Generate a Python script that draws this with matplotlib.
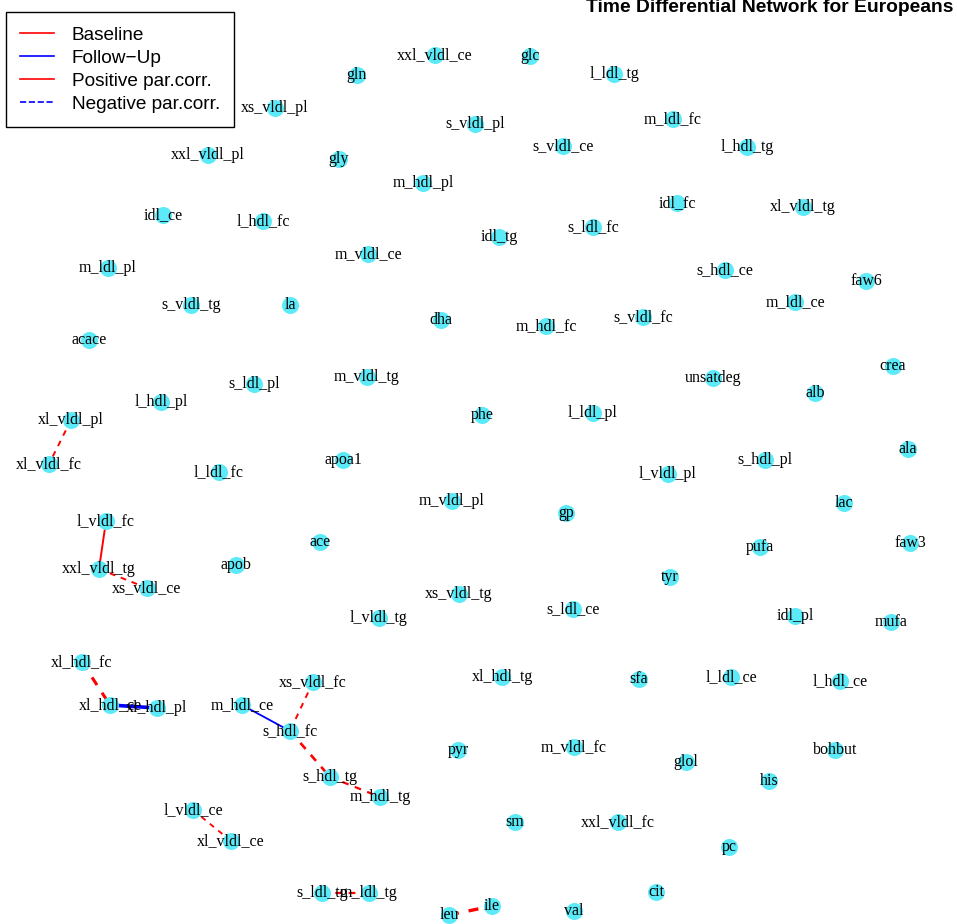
import matplotlib
matplotlib.use('Agg')
import matplotlib.pyplot as plt
from matplotlib.lines import Line2D

# node layout (x, y in layout units, y grows downward)
names = ['xs_vldl_pl', 'gln', 'xxl_vldl_ce', 'glc', 'l_ldl_tg', 'xxl_vldl_pl', 's_vldl_pl', 's_vldl_ce',
         'm_ldl_fc', 'l_hdl_tg', 'gly', 'm_hdl_pl', 'idl_ce', 'l_hdl_fc', 'idl_tg', 's_ldl_fc', 'idl_fc',
         'xl_vldl_tg', 'm_ldl_pl', 'm_vldl_ce', 's_vldl_tg', 'la', 'dha', 'm_hdl_fc', 's_vldl_fc',
         's_hdl_ce', 'm_ldl_ce', 'faw6', 'acace', 'm_vldl_tg', 's_ldl_pl', 'l_hdl_pl', 'xl_vldl_pl',
         'xl_vldl_fc', 'l_ldl_fc', 'apoa1', 'phe', 'l_ldl_pl', 'unsatdeg', 'alb', 'crea', 'ala',
         's_hdl_pl', 'l_vldl_pl', 'lac', 'm_vldl_pl', 'gp', 'ace', 'apob', 'l_vldl_fc', 'xxl_vldl_tg',
         'xs_vldl_ce', 'pufa', 'faw3', 'tyr', 'xs_vldl_tg', 'l_vldl_tg', 's_ldl_ce', 'idl_pl', 'mufa',
         'xl_hdl_fc', 'xl_hdl_ce', 'xl_hdl_pl', 'xs_vldl_fc', 'm_hdl_ce', 's_hdl_fc', 'xl_hdl_tg',
         'sfa', 'l_ldl_ce', 'l_hdl_ce', 'pyr', 'm_vldl_fc', 'glol', 'bohbut', 'his', 's_hdl_tg',
         'm_hdl_tg', 'sm', 'xxl_vldl_fc', 'pc', 'l_vldl_ce', 'xl_vldl_ce', 'cit', 's_ldl_tg',
         'm_ldl_tg', 'ile', 'leu', 'val']
xs = [275, 357, 435, 530, 614, 208, 475, 563,
      673, 747, 339, 423, 163, 263, 499, 593, 677,
      803, 108, 368, 191, 290, 441, 546, 643,
      725, 795, 866, 89, 367, 254, 161, 71,
      49, 219, 343, 482, 593, 713, 815, 893, 908,
      765, 668, 844, 452, 566, 320, 236, 106, 99,
      147, 760, 910, 670, 459, 379, 573, 795, 891,
      82, 110, 157, 313, 242, 290, 502,
      639, 731, 840, 458, 574, 686, 835, 769, 330,
      380, 515, 618, 729, 193, 231, 656, 322,
      369, 492, 449, 574]
ys = [108, 75, 55, 56, 74, 155, 124, 146,
      119, 147, 159, 183, 215, 221, 237, 227, 203,
      207, 268, 254, 305, 305, 320, 326, 317,
      270, 302, 281, 340, 377, 384, 402, 420,
      464, 472, 460, 415, 413, 378, 393, 366, 449,
      460, 474, 503, 501, 513, 542, 565, 521, 569,
      588, 547, 543, 577, 594, 618, 609, 616, 622,
      662, 705, 708, 682, 705, 731, 677,
      679, 677, 681, 750, 747, 762, 750, 781, 777,
      797, 822, 822, 847, 810, 841, 892, 893,
      893, 906, 915, 911]

# edges
edge_from = ['xl_vldl_pl', 'l_vldl_fc', 'xxl_vldl_tg', 'xl_hdl_fc', 'xl_hdl_ce', 'm_hdl_ce',
             'xs_vldl_fc', 's_hdl_fc', 's_hdl_tg', 'l_vldl_ce', 's_ldl_tg', 'leu']
edge_to = ['xl_vldl_fc', 'xxl_vldl_tg', 'xs_vldl_ce', 'xl_hdl_ce', 'xl_hdl_pl', 's_hdl_fc',
           's_hdl_fc', 's_hdl_tg', 'm_hdl_tg', 'xl_vldl_ce', 'm_ldl_tg', 'ile']
edge_color = ['red', 'red', 'red', 'red', 'blue', 'blue',
              'red', 'red', 'red', 'red', 'red', 'red']
edge_style = ['--', '-', '--', '--', '-', '-',
              '--', '--', '--', '--', '--', '--']
edge_width = [1.4, 1.4, 1.4, 2.2, 2.6, 1.3,
              1.4, 1.9, 1.6, 1.3, 1.6, 2.4]

legend_labels = ['Baseline', 'Follow\u2212Up', 'Positive par.corr.', 'Negative par.corr.']
legend_colors = ['red', 'blue', 'red', 'blue']
legend_styles = ['-', '-', '-', '--']

title = 'Time Differential Network for Europeans'

fig = plt.figure(figsize=(9.57, 9.24), dpi=100)
ax = fig.add_axes([0, 0, 1, 1])
ax.set_xlim(0, 957)
ax.set_ylim(924, 0)
ax.axis('off')

pos = {n: (x, y) for n, x, y in zip(names, xs, ys)}
for a, b, c, st, w in zip(edge_from, edge_to, edge_color, edge_style, edge_width):
    ax.plot([pos[a][0], pos[b][0]], [pos[a][1], pos[b][1]], color=c, linestyle=st,
            linewidth=w, dashes=(3, 3) if st == '--' else (None, None), zorder=1)

ax.scatter(xs, ys, s=150, color='#5CEAF8', linewidths=0, zorder=2)
for n, x, y in zip(names, xs, ys):
    ax.text(x, y, n, ha='center', va='center', fontsize=11.5,
            family='Liberation Serif', color='black', zorder=3)

fig.text(953 / 957, 1 - 12 / 924, title, ha='right', va='baseline',
         fontsize=13.9, fontweight='bold', family='Liberation Sans')

handles = [Line2D([0], [0], color=c, linestyle=s, linewidth=1.2)
           for c, s in zip(legend_colors, legend_styles)]
leg = ax.legend(handles, legend_labels, loc='upper left', bbox_to_anchor=(6 / 957, 1 - 12 / 924),
                prop={'family': 'Liberation Sans', 'size': 13.7}, frameon=True, fancybox=False,
                edgecolor='black', framealpha=1, handlelength=1.75, handletextpad=0.95,
                borderpad=0.75, borderaxespad=0, labelspacing=0.3)
leg.get_frame().set_linewidth(1.0)

fig.savefig('out.png', dpi=100)
